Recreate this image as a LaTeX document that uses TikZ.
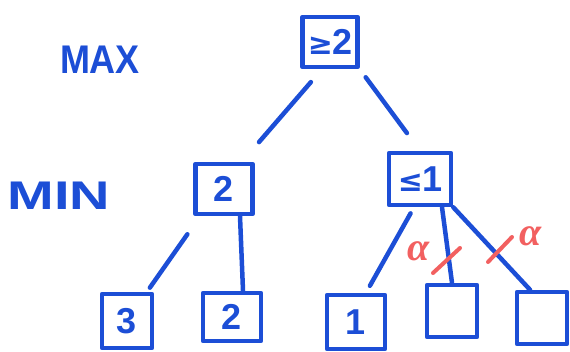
\documentclass[tikz,border=0pt]{standalone}
\usepackage{fontspec}
\setmainfont{Liberation Sans}
\newfontfamily\symfnt{DejaVu Sans}
\newfontfamily\greekfnt{Liberation Serif}
\usepackage{graphicx}
\definecolor{handblue}{RGB}{28,78,214}
\definecolor{handred}{RGB}{242,96,96}
\tikzset{
  ink/.style={draw=handblue, line width=4.5pt, line join=round},
  box/.style={ink, rectangle, inner sep=0pt, text=handblue,
    font=\fontsize{36}{40}\selectfont\bfseries},
  edge/.style={handblue, line width=4.5pt, line cap=round},
  cut/.style={handred, line width=4pt, line cap=round},
  level/.style={text=handblue, inner sep=0pt,
    font=\fontsize{40}{44}\selectfont\bfseries},
  prune/.style={text=handred, inner sep=0pt,
    font=\greekfnt\fontsize{40}{44}\selectfont\bfseries\itshape},
}
\begin{document}
\begin{tikzpicture}[x=1pt,y=-1pt]
  \useasboundingbox (0,0) rectangle (570,351);

  % level labels
  \node[level] (lmax) at (100,60) {\scalebox{0.9}[1]{MAX}};
  \node[level] (lmin) at (59,196) {\scalebox{1.4}[1]{MIN}};

  % MAX node
  \node[box, minimum width=55pt, minimum height=50pt] (root) at (330,42)
    {{\symfnt\bfseries\fontsize{30}{34}\selectfont ≥}\kern-1pt 2};

  % MIN nodes
  \node[box, minimum width=57pt, minimum height=50pt] (minL) at (224,189) {2};
  \node[box, minimum width=62pt, minimum height=52pt] (minR) at (420,179)
    {{\symfnt\bfseries\fontsize{30}{34}\selectfont ≤}\kern-1pt 1};

  % leaves
  \node[box, minimum width=50pt, minimum height=54pt] (l3) at (127,321) {3};
  \node[box, minimum width=58pt, minimum height=48pt] (l2) at (232,317) {2};
  \node[box, minimum width=58pt, minimum height=54pt] (l1) at (356,322) {1};
  \node[box, minimum width=50pt, minimum height=52pt] (l4) at (452,311) {};
  \node[box, minimum width=50pt, minimum height=52pt] (l5) at (542,318) {};

  % tree edges
  \draw[edge, shorten <=17pt, shorten >=26pt]
    ([xshift=-8pt]root.south) -- ([xshift=18pt]minL.north);
  \draw[edge, shorten <=10pt, shorten >=22pt]
    (root.south east) -- (minR.north);
  \draw[edge, shorten <=22pt, shorten >=5pt]
    ([xshift=-24pt]minL.south) -- ([xshift=20pt]l3.north);
  \draw[edge] ([xshift=16pt]minL.south) -- ([xshift=11pt]l2.north);
  \draw[edge, shorten <=7pt, shorten >=8pt]
    ([xshift=-6pt]minR.south) -- ([xshift=10pt]l1.north);
  \draw[edge] ([xshift=22pt]minR.south) -- (l4.north);
  \draw[edge] (minR.south east) -- ([xshift=-12pt]l5.north);

  % pruning marks
  \coordinate (c1a) at (433,273); \coordinate (c1b) at (460,248);
  \coordinate (c2a) at (488,262); \coordinate (c2b) at (512,237);
  \draw[cut] (c1a) -- (c1b);
  \draw[cut] (c2a) -- (c2b);
  \node[prune] (a1) at (419,251) {α};
  \node[prune] (a2) at (531,236) {α};
\end{tikzpicture}
\end{document}
